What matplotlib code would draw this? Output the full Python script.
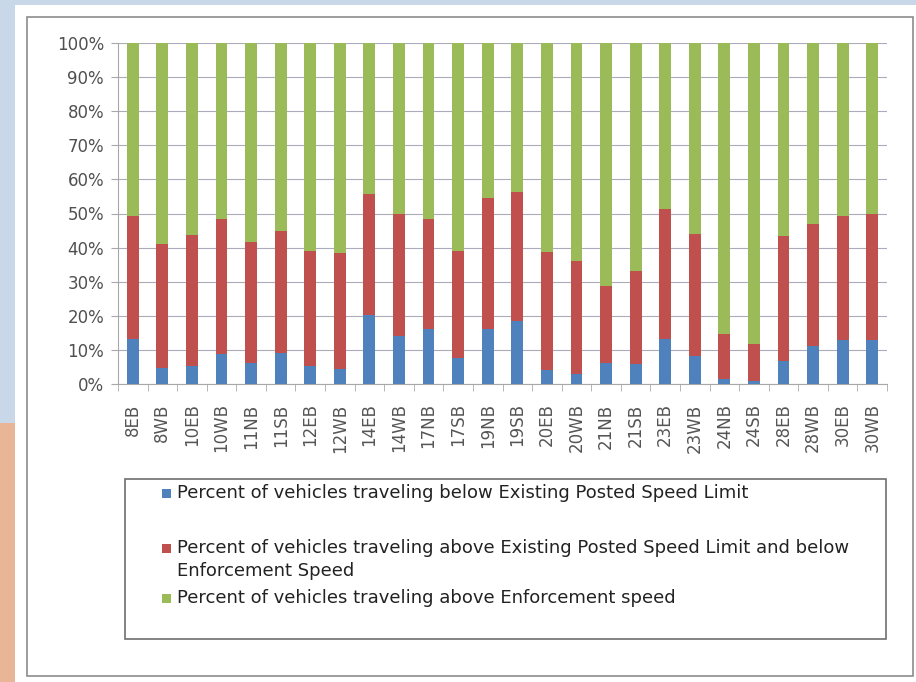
import matplotlib.pyplot as plt
import numpy as np
from matplotlib.patches import Rectangle
from matplotlib.ticker import FixedLocator, PercentFormatter

# Count stations (direction of travel)
sites = ["8EB", "8WB", "10EB", "10WB", "11NB", "11SB", "12EB", "12WB", "14EB",
         "14WB", "17NB", "17SB", "19NB", "19SB", "20EB", "20WB", "21NB", "21SB",
         "23EB", "23WB", "24NB", "24SB", "28EB", "28WB", "30EB", "30WB"]

# percent below posted limit
below_limit = [13.2, 4.8, 5.3, 8.8, 6.2, 9.0, 5.3, 4.4, 20.3, 14.0, 16.0, 7.5, 16.0,
               18.5, 4.2, 2.9, 6.2, 6.0, 13.2, 8.3, 1.6, 1.0, 6.8, 11.2, 13.0, 13.0]
# percent between posted limit and enforcement speed
limit_to_enf = [36.2, 36.4, 38.5, 39.7, 35.3, 36.0, 33.7, 34.1, 35.5, 36.0, 32.5, 31.5, 38.4,
                37.7, 34.6, 33.3, 22.6, 27.0, 38.2, 35.7, 13.0, 10.7, 36.7, 35.8, 36.4, 37.0]
# remainder: above enforcement speed
above_enf = [100 - a - b for a, b in zip(below_limit, limit_to_enf)]

LABELS = [
    "Percent of vehicles traveling below Existing Posted Speed Limit",
    "Percent of vehicles traveling above Existing Posted Speed Limit and below\nEnforcement Speed",
    "Percent of vehicles traveling above Enforcement speed",
]
COLORS = ["#4F81BD", "#C0504D", "#9BBB59"]

W, H = 916, 682
fig = plt.figure(figsize=(W / 100, H / 100), dpi=100)
fig.patch.set_facecolor("#c9d8e8")

# slide background bits: orange strip at lower left, white card
fig.patches.append(Rectangle((0, 0), 15 / W, 1 - 423 / H, transform=fig.transFigure,
                             facecolor="#e8b696", edgecolor="none", zorder=0))
fig.patches.append(Rectangle((15 / W, 0), 1 - 15 / W, 1 - 5 / H, transform=fig.transFigure,
                             facecolor="white", edgecolor="none", zorder=0))
fig.patches.append(Rectangle((27 / W, 1 - 676 / H), 886 / W, 659 / H, transform=fig.transFigure,
                             facecolor="white", edgecolor="#8c8c8c", linewidth=1.2, zorder=1))

ax = fig.add_axes([118 / W, 1 - 384 / H, (887 - 118) / W, (384 - 43) / H], zorder=2)
x = np.arange(len(sites))
width = 0.4
bottom2 = np.array(below_limit)
bottom3 = bottom2 + np.array(limit_to_enf)
ax.bar(x, below_limit, width, color=COLORS[0], zorder=3)
ax.bar(x, limit_to_enf, width, bottom=bottom2, color=COLORS[1], zorder=3)
ax.bar(x, above_enf, width, bottom=bottom3, color=COLORS[2], zorder=3)

ax.set_xlim(-0.5, len(sites) - 0.5)
ax.set_ylim(0, 100)
ax.yaxis.set_major_locator(FixedLocator(np.arange(0, 101, 10)))
ax.yaxis.set_major_formatter(PercentFormatter(decimals=0))
ax.grid(True, axis="y", color="#ababbc", linewidth=0.8, zorder=0)

ax.set_xticks(x)
ax.set_xticklabels(sites, rotation=90, fontsize=12, color="#555555")
ax.tick_params(axis="x", which="major", length=0, pad=14)
ax.set_xticks(np.arange(-0.5, len(sites), 1), minor=True)
ax.tick_params(axis="x", which="minor", length=5, color="#a8a8a8", direction="out")
ax.tick_params(axis="y", labelsize=12, colors="#505050", length=5, direction="out",
               pad=5)
ax.tick_params(axis="y", color="#a8a8a8")

for side in ("top", "right"):
    ax.spines[side].set_visible(False)
for side in ("left", "bottom"):
    ax.spines[side].set_color("#a8a8a8")
ax.set_facecolor("white")

# legend box drawn in figure pixels
fig.patches.append(Rectangle((125 / W, 1 - 639 / H), (886 - 125) / W, (639 - 479) / H,
                             transform=fig.transFigure, facecolor="white",
                             edgecolor="#6e6e6e", linewidth=1.2, zorder=3))
entry_y = [493, 548, 598]
for ypix, lab, col in zip(entry_y, LABELS, COLORS):
    fig.patches.append(Rectangle((162 / W, 1 - (ypix + 5) / H), 9 / W, 9 / H,
                                 transform=fig.transFigure, facecolor=col,
                                 edgecolor="none", zorder=4))
    fig.text(177 / W, 1 - (ypix - 9) / H, lab, fontsize=13, va="top", ha="left",
             family=["DejaVu Sans"], color="#222222", linespacing=1.35, zorder=5)

fig.savefig("out.png", dpi=100, facecolor=fig.get_facecolor())
